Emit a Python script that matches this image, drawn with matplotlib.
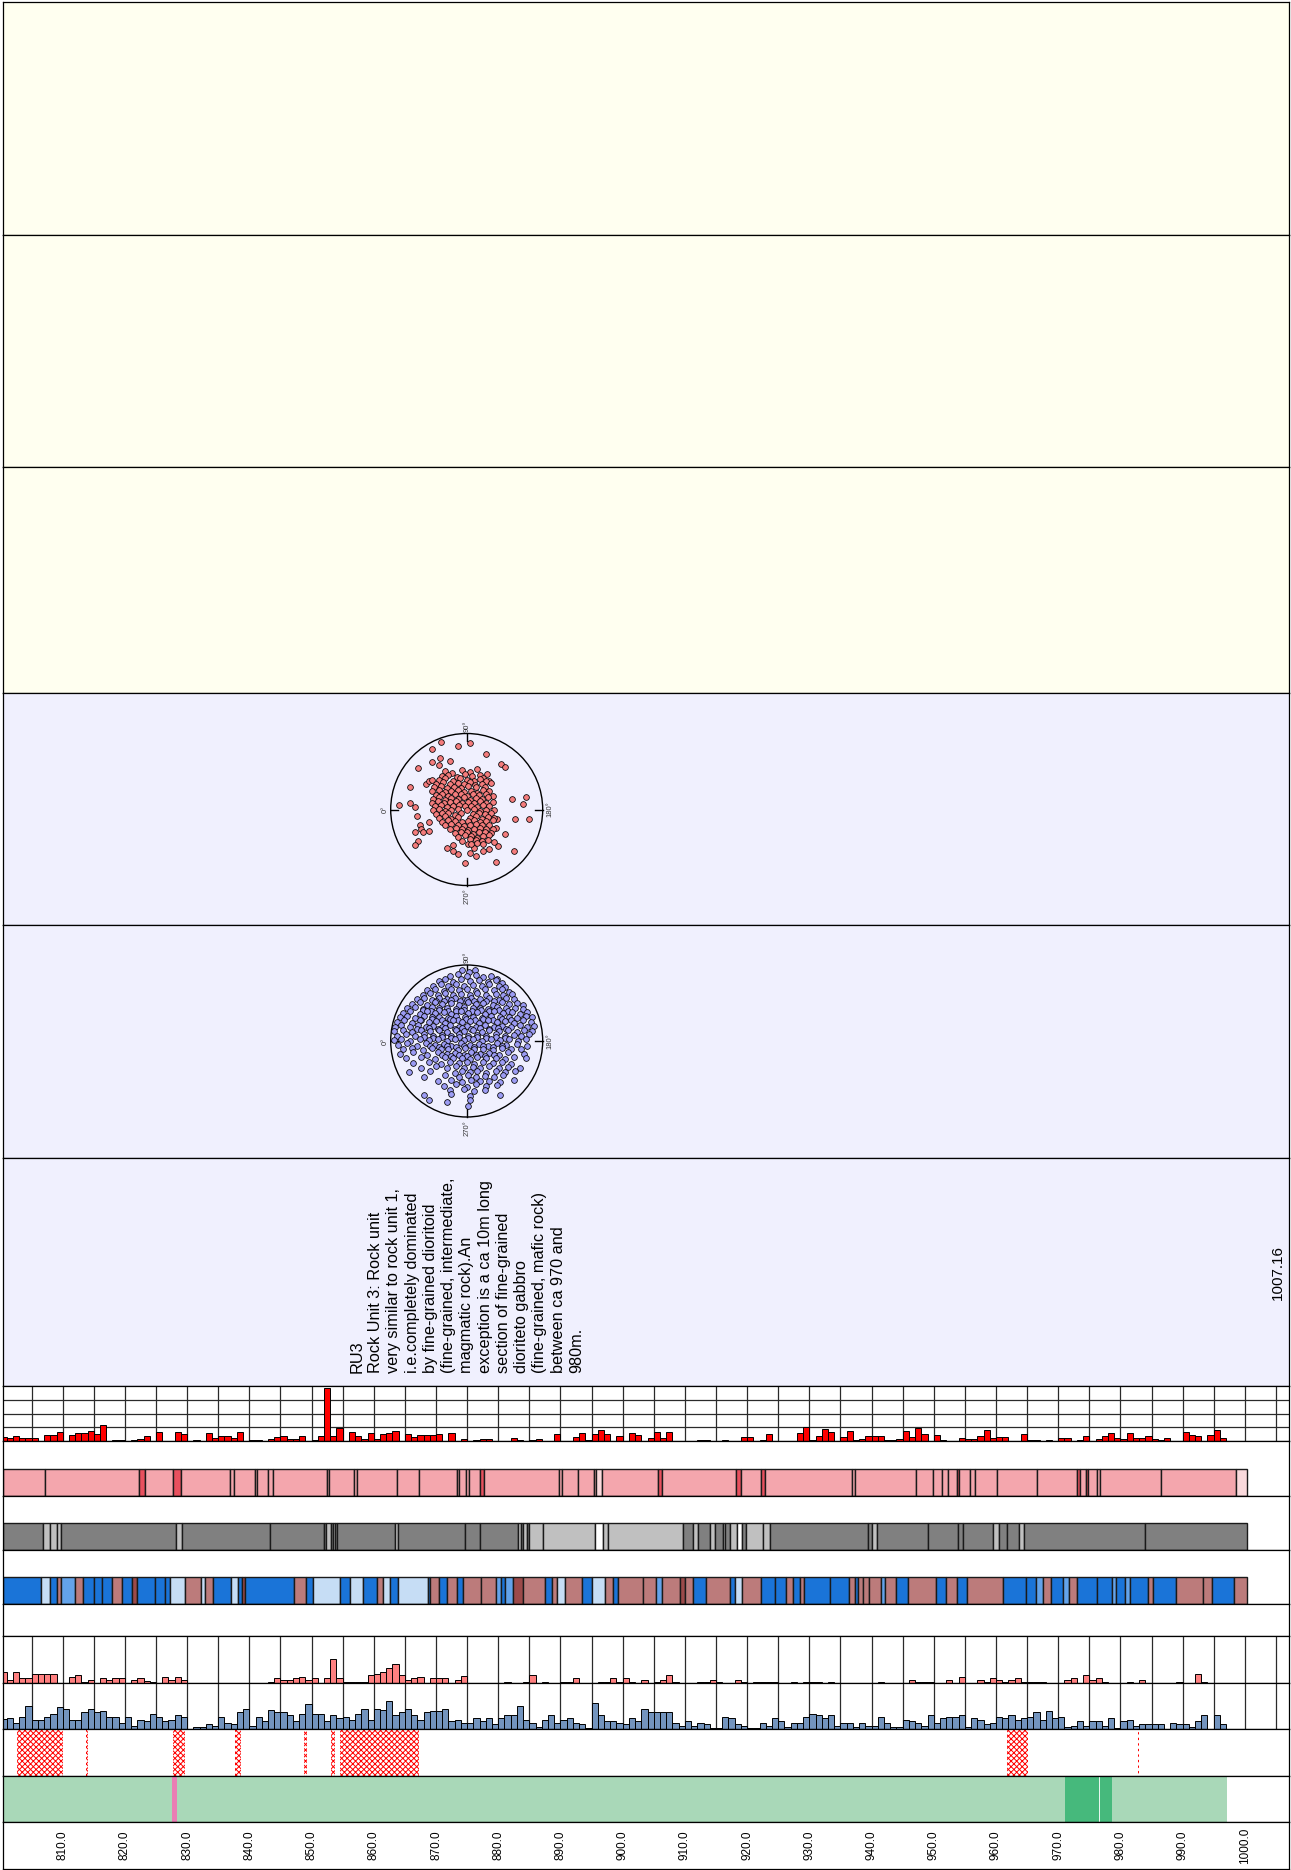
import matplotlib.pyplot as plt
from matplotlib.patches import Rectangle, Circle
from matplotlib.transforms import blended_transform_factory
import numpy as np

plt.rcParams['font.family'] = ['Liberation Sans', 'DejaVu Sans']
plt.rcParams['hatch.linewidth'] = 0.7

# depth axis (m)
depth_min, depth_max = 800.4, 1007.1
end_depth_label = "1007.16"
bins = np.arange(800, 997)            # 1 m bins (left edges)
tick_depths = np.arange(810, 1001, 10)
grid_depths = np.arange(805, 1006, 5)

# histogram values, one per 1 m bin from 800 to 996
red_counts = [3, 2.2, 3.7, 2, 2, 2, 0.3, 4.6, 4.1, 6.3,
              0, 4.6, 5.9, 5.9, 7.6, 5.4, 11.7, 0, 1, 1,
              0, 0.5, 1.7, 3.9, 0, 6.6, 0, 0, 6.8, 4.9,
              0, 1, 0, 5.9, 2, 3.4, 3.9, 2.4, 6.8, 0,
              0.5, 0.7, 0, 1.5, 3.2, 3.9, 1.2, 1.7, 3.9, 0,
              1, 3.4, 38.3, 3.4, 9.5, 0, 6.6, 3.4, 1.7, 6.1,
              1.7, 4.9, 5.6, 7.3, 0, 4.9, 2.9, 4.6, 4.6, 4.1,
              5.4, 0, 6.1, 0, 1.2, 0, 1, 1.5, 1.7, 0,
              0, 0, 2.4, 0.5, 0, 1, 1.7, 0, 0, 5.4,
              0, 0, 2.9, 5.6, 1, 5.4, 8.3, 5.4, 0, 3.7,
              0.3, 5.9, 4.1, 0, 2.4, 6.3, 2.4, 6.3, 0, 0,
              0, 0, 1, 1, 0, 0, 0.7, 0, 0, 2.9,
              2.9, 0, 1, 5.1, 0, 0, 0, 0, 6.1, 10.5,
              1, 3.9, 9, 6.3, 0, 2.9, 7.1, 0.5, 1.2, 3.9,
              3.4, 3.4, 0.5, 1, 1.5, 7.1, 2.9, 9.3, 5.4, 0,
              4.6, 0.5, 0, 0, 2, 1.7, 1.2, 3.4, 7.8, 2.4,
              3.2, 3.2, 0, 0, 5.4, 0.5, 0.5, 0, 1, 0,
              2.4, 2, 0, 1, 3.9, 0, 1.7, 3.9, 6.1, 2.4,
              1.5, 5.6, 2.4, 2.4, 3.4, 1.7, 1, 2.4, 0, 0,
              6.3, 4.1, 3.4, 0, 4.1, 7.8, 2.4]

pink_counts = [34, 10, 33, 15, 15, 27, 27, 27, 27, 0,
               0, 18, 24, 3, 10, 0, 15, 8, 15, 15,
               0, 10, 15, 5, 4, 0, 18, 10, 18, 10,
               0, 0, 0, 0, 0, 0, 0, 0, 0, 0,
               0, 0, 0, 4, 15, 10, 10, 15, 18, 10,
               15, 0, 15, 72, 15, 4, 4, 4, 4, 24,
               28, 34, 46, 57, 24, 10, 15, 18, 0, 15,
               15, 15, 0, 10, 20, 0, 0, 0, 0, 0,
               0, 4, 0, 0, 4, 25, 0, 4, 0, 0,
               4, 4, 15, 0, 0, 0, 4, 4, 15, 4,
               15, 4, 0, 10, 0, 4, 10, 25, 4, 0,
               0, 0, 4, 4, 10, 4, 0, 0, 10, 4,
               0, 4, 4, 4, 4, 0, 0, 4, 0, 4,
               4, 4, 0, 4, 0, 0, 0, 0, 0, 0,
               0, 4, 0, 0, 0, 0, 10, 4, 4, 4,
               0, 0, 10, 0, 18, 0, 0, 10, 4, 15,
               10, 4, 10, 15, 4, 4, 4, 4, 0, 0,
               0, 10, 15, 0, 24, 10, 15, 4, 0, 0,
               0, 4, 0, 10, 0, 0, 0, 0, 0, 4,
               0, 0, 28, 4, 0, 0, 0]

blue_counts = [30, 34, 18, 38, 71, 28, 28, 38, 46, 66,
               62, 28, 28, 51, 61, 51, 56, 38, 38, 18,
               38, 10, 28, 24, 47, 38, 24, 28, 42, 38,
               0, 6, 6, 15, 10, 38, 18, 15, 51, 61,
               10, 38, 24, 57, 51, 51, 42, 24, 47, 75,
               46, 47, 24, 42, 33, 38, 28, 47, 62, 28,
               62, 57, 84, 42, 51, 61, 42, 28, 51, 56,
               56, 61, 24, 28, 18, 18, 33, 24, 33, 15,
               33, 42, 42, 70, 28, 18, 6, 28, 42, 18,
               28, 33, 18, 15, 4, 79, 42, 24, 24, 18,
               15, 33, 24, 61, 51, 51, 51, 51, 18, 10,
               24, 10, 18, 15, 4, 4, 38, 33, 15, 10,
               4, 4, 18, 10, 33, 24, 6, 18, 18, 38,
               47, 42, 33, 42, 10, 18, 18, 6, 18, 10,
               10, 38, 18, 6, 6, 28, 24, 18, 10, 42,
               18, 33, 38, 38, 42, 6, 33, 28, 15, 18,
               38, 33, 42, 28, 33, 38, 51, 28, 56, 33,
               38, 6, 10, 24, 10, 24, 24, 10, 33, 4,
               24, 28, 10, 15, 15, 15, 15, 0, 18, 15,
               15, 6, 24, 42, 0, 42, 15]

# interval tracks: boundaries (m) and one class code per interval
pink_bounds = [800.4, 807.15, 822.3, 823.3, 827.8, 829.0, 836.9, 837.5, 840.9, 841.2,
               843.0, 843.8, 852.4, 852.8, 856.8, 857.3, 863.7, 867.3, 873.3, 873.7,
               874.8, 875.35, 877.1, 877.7, 889.8, 890.2, 892.9, 895.4, 895.7, 896.6,
               905.6, 906.4, 918.2, 919.0, 922.3, 922.8, 936.8, 937.3, 947.2, 949.9,
               951.4, 952.3, 953.7, 954.1, 955.9, 956.7, 960.2, 966.6, 973.1, 973.5,
               974.4, 974.8, 976.2, 976.7, 986.5, 998.6, 1000.4]
pink_kind = "PPRPRPPPPP" "PPPPPPPPPP" "PPRPPPPPLP" "RPRPRPPPPP" "PPRPPPPPRP" "RPPPPL"

gray_bounds = [800.4, 806.8, 808.0, 809.0, 809.7, 828.2, 829.1, 843.3, 852.0, 852.3,
               853.1, 853.5, 853.8, 854.1, 863.4, 863.9, 874.7, 877.1, 883.1, 883.7,
               884.0, 884.7, 885.0, 887.2, 895.5, 896.8, 897.7, 909.7, 911.3, 912.1,
               914.0, 914.8, 916.1, 916.4, 917.2, 918.3, 919.1, 919.9, 922.6, 923.7,
               939.5, 940.0, 940.9, 949.1, 953.9, 954.7, 959.6, 960.5, 961.7, 963.7,
               964.5, 983.9, 1000.4]
gray_kind = "DGGGDGDDDG" "DGDDGDDDGD" "GDGGWGG" "DGDGDGDGWDG" "GDDGDDDDGDDGDD"

blue_bounds = [800.4, 806.5, 808.0, 809.1, 809.8, 812.0, 813.3, 815.0, 816.3, 817.9,
               819.5, 821.1, 821.9, 824.8, 826.4, 827.2, 829.6, 832.3, 832.9, 834.1,
               837.1, 838.1, 838.8, 839.3, 847.1, 849.1, 850.3, 854.6, 856.1, 858.3,
               860.5, 861.4, 862.6, 863.9, 868.7, 869.0, 870.4, 871.8, 873.3, 874.4,
               877.3, 879.7, 880.5, 881.1, 882.4, 884.0, 887.5, 888.6, 889.5, 890.7,
               893.4, 895.0, 897.2, 898.5, 899.3, 903.3, 905.3, 906.4, 909.2, 910.0,
               911.3, 913.4, 917.2, 918.0, 919.1, 922.2, 924.5, 926.3, 927.4, 928.5,
               929.1, 933.3, 936.3, 937.3, 937.9, 938.7, 939.6, 941.6, 942.2, 944.0,
               945.9, 950.4, 952.0, 953.7, 955.4, 961.1, 964.9, 966.5, 967.6, 968.9,
               970.8, 971.8, 973.1, 976.3, 978.6, 979.3, 980.7, 981.5, 984.5, 985.3,
               989.0, 993.3, 994.8, 998.2, 1000.4]
blue_kind = ("BLBNMNBBBN" "BKBBBLNLNB" "LBKBNBLBLB" "NLBLBNBNBN" "NMBMKNBNLN"
             "BLNBNNMNKN" "BNBLNBBNBN" "BBNBNNNMNB" "NBNBNBBMNB" "MNBBMBMBNB" "NNBN")

hatch_spans = [(802.7, 806.3), (806.3, 808.0), (808.0, 810.1), (813.7, 814.1),
               (827.8, 829.7), (837.7, 838.6), (848.7, 849.3), (853.2, 853.8),
               (854.6, 858.8), (858.8, 863.9), (863.9, 867.3), (961.8, 965.2),
               (982.8, 983.05)]

green_bounds = [800.4, 827.5, 828.4, 971.1, 976.5, 976.7, 978.6, 997.1]
green_kind = "LPLDWDL"

pink_pal = {'P': '#F4A6AD', 'R': '#E8505E', 'L': '#FAD9DC'}
gray_pal = {'D': '#808080', 'G': '#C0C0C0', 'W': '#FFFFFF'}
blue_pal = {'B': '#1A74D8', 'L': '#C6DDF5', 'M': '#63A3EA', 'N': '#BC7B7B', 'K': '#9C4A4A'}
green_pal = {'L': '#A9D8B8', 'P': '#EA7DB4', 'D': '#46B97C', 'W': '#E8F6EE'}

# stereonet poles, in % of the net radius (x right, y up)
red_poles = [(-34, 89), (-11, 83), (4, 88), (-46, 79), (25, 73), (45, 60), (50, 56), (-64, 54),
             (-46, 63), (-35, 68), (-22, 64), (-37, 59), (-75, 29), (-54, 33), (-50, 38), (-46, 39),
             (30, 38), (59, 14), (78, 16), (74, 7), (-89, 6), (-75, 8), (-68, 3), (-65, -8),
             (-50, -16), (-62, -21), (-60, -25), (-68, -29), (-57, -29), (-50, -28), (-64, -41),
             (-68, -47), (39, -69), (62, -54), (64, -12), (82, -13), (50, -32), (39, -24), (40, -13),
             (-2, -70), (-11, -59), (-26, -50), (-18, -47), (-18, -55), (2, -46), (4, -57), (12, -61),
             (22, -55), (29, -52), (41, -48), (36, -43), (9, -50),
             (-28, 51), (-19, 48), (-6, 52), (5, 49), (13, 53), (27, 47),
             (-33, 44), (-24, 46), (-13, 43), (-2, 47), (7, 44), (17, 46), (22, 41),
             (-37, 39), (-28, 41), (-18, 38), (-9, 42), (1, 39), (9, 37), (18, 40), (26, 38),
             (-41, 34), (-31, 36), (-22, 33), (-12, 35), (-4, 33), (4, 36), (11, 32), (20, 34), (32, 35),
             (-43, 29), (-34, 31), (-26, 28), (-17, 30), (-8, 28), (2, 31), (12, 29), (24, 30),
             (-45, 24), (-36, 26), (-28, 23), (-20, 25), (-12, 26), (-4, 23), (6, 25), (14, 22), (22, 26), (30, 24),
             (-40, 19), (-32, 21), (-24, 18), (-16, 20), (-8, 21), (0, 18), (8, 20), (16, 19), (26, 21), (34, 18),
             (-44, 14), (-36, 16), (-28, 13), (-20, 15), (-12, 14), (-4, 16), (4, 13), (12, 15), (20, 14), (28, 16),
             (-46, 9), (-38, 11), (-30, 8), (-22, 10), (-14, 11), (-6, 9), (2, 10), (10, 8), (18, 11), (26, 9), (34, 10),
             (-42, 4), (-34, 6), (-26, 3), (-18, 5), (-10, 6), (-2, 4), (6, 5), (14, 3), (22, 6), (30, 4),
             (-44, -1), (-36, 1), (-28, -2), (-20, 0), (-12, 1), (0, -1), (10, 1), (18, -2), (26, 0), (36, -1),
             (-40, -6), (-32, -4), (-24, -5), (-16, -7), (-8, -4), (8, -6), (16, -4), (24, -6), (32, -5),
             (-36, -11), (-28, -9), (-20, -12), (-12, -10), (4, -11), (12, -9), (20, -12), (28, -10), (36, -11),
             (-32, -16), (-24, -14), (-16, -15), (-6, -17), (2, -15), (10, -14), (18, -16), (26, -15), (34, -14),
             (-28, -21), (-20, -19), (-12, -20), (-4, -22), (4, -20), (12, -19), (20, -21), (30, -20),
             (-22, -26), (-14, -24), (-6, -25), (2, -27), (10, -25), (18, -24), (26, -26), (34, -25),
             (-16, -31), (-8, -29), (0, -30), (8, -32), (16, -30), (24, -29), (32, -31),
             (-12, -36), (-2, -34), (6, -35), (14, -37), (22, -35), (30, -34),
             (-6, -41), (4, -39), (12, -40), (20, -42), (28, -40),
             (6, -46), (14, -44), (22, -46)]

blue_poles = [(-6, 93), (3, 91), (11, 94),
              (-22, 85), (-12, 88), (0, 86), (12, 87), (22, 84), (32, 86), (40, 82),
              (-36, 79), (-28, 81), (-18, 78), (-8, 81), (4, 79), (16, 80), (28, 78), (38, 80), (46, 76),
              (-44, 73), (-34, 75), (-24, 72), (-14, 75), (-4, 73), (8, 74), (20, 72), (30, 75), (42, 73), (50, 71),
              (-52, 67), (-42, 69), (-30, 66), (-20, 69), (-10, 67), (0, 68), (12, 66), (24, 69), (36, 67), (46, 68), (56, 65),
              (-58, 61), (-48, 63), (-38, 60), (-28, 63), (-18, 61), (-8, 62), (4, 60), (14, 63), (26, 61), (38, 62),
              (48, 60), (60, 62),
              (-66, 55), (-56, 57), (-46, 54), (-36, 57), (-26, 55), (-16, 56), (-4, 54), (6, 57), (18, 55), (30, 56),
              (42, 54), (52, 57), (62, 55),
              (-40, 53), (-30, 52), (-21, 54), (-9, 52), (1, 54), (10, 52), (25, 53), (36, 52),
              (-72, 49), (-62, 51), (-52, 48), (-42, 51), (-32, 49), (-20, 50), (-10, 48), (2, 51), (12, 49), (22, 50),
              (34, 48), (46, 51), (56, 49), (66, 50), (74, 47),
              (-78, 43), (-68, 45), (-58, 42), (-46, 45), (-36, 43), (-26, 44), (-14, 42), (-4, 45), (8, 43), (18, 44),
              (28, 42), (40, 45), (52, 43), (64, 44), (74, 42),
              (-57, 41), (-47, 40), (-36, 41), (-25, 40), (-14, 39), (-3, 41), (7, 40), (19, 41), (30, 40), (43, 41), (55, 40),
              (-84, 37), (-74, 39), (-62, 36), (-52, 39), (-42, 37), (-30, 38), (-20, 36), (-8, 39), (2, 37), (14, 38),
              (24, 36), (36, 39), (48, 37), (60, 38), (70, 36), (80, 38),
              (-88, 31), (-78, 33), (-68, 30), (-56, 33), (-46, 31), (-36, 32), (-24, 30), (-14, 33), (-2, 31), (8, 32),
              (20, 30), (32, 33), (44, 31), (56, 32), (66, 30), (78, 33), (86, 31),
              (-60, 28), (-45, 29), (-33, 28), (-22, 29), (-11, 28), (-1, 29), (11, 28), (22, 29), (34, 28), (46, 29), (58, 28),
              (-92, 25), (-82, 27), (-72, 24), (-62, 27), (-50, 25), (-40, 26), (-28, 24), (-18, 27), (-6, 25), (4, 26),
              (16, 24), (28, 27), (40, 25), (50, 26), (62, 24), (74, 27), (84, 25),
              (-94, 19), (-86, 21), (-74, 18), (-64, 21), (-54, 19), (-44, 20), (-32, 18), (-22, 21), (-10, 19), (0, 20),
              (12, 18), (24, 21), (36, 19), (46, 20), (58, 18), (70, 21), (80, 19), (88, 20),
              (-66, 16), (-50, 17), (-38, 16), (-28, 17), (-16, 16), (-6, 17), (6, 16), (18, 17), (30, 16), (41, 17), (52, 16),
              (-96, 13), (-84, 15), (-72, 12), (-60, 15), (-48, 13), (-36, 14), (-26, 12), (-14, 15), (-4, 13), (8, 14),
              (20, 12), (30, 15), (42, 13), (54, 14), (66, 12), (76, 15), (86, 13),
              (-92, 7), (-80, 9), (-68, 6), (-56, 9), (-44, 7), (-32, 8), (-20, 6), (-10, 9), (2, 7), (14, 8),
              (26, 6), (38, 9), (50, 7), (62, 8), (72, 6), (82, 9),
              (-56, 5), (-44, 4), (-32, 5), (-21, 4), (-10, 5), (2, 4), (13, 5), (26, 4), (38, 5), (50, 4),
              (-96, 1), (-86, 3), (-74, 0), (-62, 3), (-50, 1), (-38, 2), (-26, 0), (-16, 3), (-4, 1), (8, 2),
              (20, 0), (32, 3), (44, 1), (56, 2), (68, 0), (78, 3),
              (-90, -5), (-78, -3), (-66, -6), (-54, -3), (-42, -5), (-30, -4), (-20, -6), (-8, -3), (4, -5), (16, -4),
              (28, -6), (40, -3), (52, -5), (66, -4), (80, -6),
              (-48, -7), (-37, -8), (-26, -7), (-14, -8), (-3, -7), (10, -8), (22, -7), (34, -8), (46, -7),
              (-84, -11), (-72, -9), (-58, -12), (-46, -9), (-34, -11), (-24, -10), (-12, -12), (-2, -9), (10, -11),
              (22, -10), (34, -12), (46, -9), (58, -11), (72, -10),
              (-88, -17), (-70, -15), (-52, -18), (-38, -15), (-26, -17), (-16, -16), (-4, -18), (6, -15), (18, -17),
              (30, -16), (42, -18), (54, -15), (76, -17),
              (-32, -19), (-21, -20), (-10, -19), (1, -20), (12, -19), (24, -20), (36, -19),
              (-80, -23), (-60, -21), (-42, -24), (-28, -21), (-18, -23), (-6, -22), (4, -24), (14, -21), (26, -23),
              (38, -22), (50, -24), (62, -21), (78, -23),
              (-70, -29), (-50, -27), (-34, -30), (-22, -27), (-10, -29), (0, -28), (10, -30), (22, -27), (34, -29),
              (46, -28), (58, -30),
              (-60, -35), (-40, -33), (-26, -36), (-14, -33), (-4, -35), (8, -34), (18, -36), (30, -33), (42, -35),
              (54, -34), (70, -36),
              (-76, -41), (-48, -39), (-16, -42), (-6, -39), (4, -41), (14, -40), (26, -42), (38, -39), (50, -41), (64, -40),
              (-56, -47), (-28, -45), (-10, -48), (2, -45), (12, -47), (24, -46), (36, -48), (48, -45),
              (-38, -53), (-20, -51), (-6, -54), (6, -51), (18, -53), (30, -52), (44, -54), (62, -51),
              (-30, -59), (-14, -57), (0, -60), (12, -57), (26, -59), (40, -58),
              (-22, -65), (-4, -63), (10, -66), (24, -64),
              (-56, -71), (-20, -70), (4, -72), (44, -71),
              (-50, -77), (-26, -80), (4, -77), (2, -85)]

unit_text = ("RU3\nRock Unit 3: Rock unit\nvery similar to rock unit 1,\n"
             "i.e.completely dominated\nby fine-grained dioritoid\n"
             "(fine-grained, intermediate,\nmagmatic rock).An\n"
             "exception is a ca 10m long\nsection of fine-grained\n"
             "dioriteto gabbro\n(fine-grained, mafic rock)\nbetween ca 970 and\n980m.")

W, H = 1291, 1870
fig = plt.figure(figsize=(W / 100, H / 100), dpi=100)
X0, X1 = 3, 1289


def strip(y0, y1, bg='white', top=1.0):
    # one horizontal band of the log, positioned in pixels
    ax = fig.add_axes([X0 / W, 1 - y1 / H, (X1 - X0) / W, (y1 - y0) / H])
    ax.set_xlim(depth_min, depth_max)
    ax.set_ylim(0, top)
    ax.set_xticks([])
    ax.set_yticks([])
    ax.set_facecolor(bg)
    for s in ax.spines.values():
        s.set_linewidth(0.9)
        s.set_color('black')
    return ax


def hist(y0, y1, vals, top, color, hgrid=()):
    ax = strip(y0, y1, top=top)
    for g in grid_depths:
        ax.axvline(g, color='#2a2a2a', lw=0.9, zorder=1)
    for g in hgrid:
        ax.axhline(g, color='#2a2a2a', lw=0.9, zorder=1)
    ax.bar(bins, vals, width=1, align='edge', color=color, edgecolor='black', lw=0.7, zorder=2)
    return ax


def track(y0, y1, bounds, kinds, pal, h=0.5, ec='#1a1a1a'):
    ax = strip(y0, y1)
    for a, b, k in zip(bounds[:-1], bounds[1:], kinds):
        ax.add_patch(Rectangle((a, 0), b - a, h, facecolor=pal[k], edgecolor=ec, lw=1.0))
    return ax


def stereo(cy, poles, fc, cx=466.7, half=95):
    ax = fig.add_axes([(cx - half) / W, 1 - (cy + half) / H, 2 * half / W, 2 * half / H])
    ax.set_xlim(-1.25, 1.25)
    ax.set_ylim(-1.25, 1.25)
    ax.axis('off')
    ax.add_patch(Circle((0, 0), 1, fill=False, lw=1.0, ec='black'))
    ax.plot([0, 0], [1, 0.9], color='black', lw=1)
    ax.plot([0, 0], [-1, -0.9], color='black', lw=1)
    ax.plot([-1, -0.9], [0, 0], color='black', lw=1)
    ax.plot([1, 0.9], [0, 0], color='black', lw=1)
    lab = dict(rotation=90, ha='center', va='center', fontsize=5.5, color='#333333')
    ax.text(0, 1.10, '90°', **lab)
    ax.text(-1.07, 0, '0°', **lab)
    ax.text(1.09, 0, '180°', **lab)
    ax.text(0, -1.14, '270°', **lab)
    px = [p[0] / 100 for p in poles]
    py = [p[1] / 100 for p in poles]
    ax.scatter(px, py, s=17, c=fc, edgecolors='black', linewidths=0.55, zorder=3)
    return ax


# empty description panels
strip(2, 235, '#FFFFF0')
strip(235, 467, '#FFFFF0')
strip(467, 693, '#FFFFF0')
strip(693, 925, '#F0F0FE')
strip(925, 1158, '#F0F0FE')
strip(1158, 1386, '#F0F0FE')

stereo(809.5, red_poles, '#F47C7C')
stereo(1041, blue_poles, '#9C9CF4')

fig.text(350 / W, 1 - 1373 / H, unit_text, rotation=90, ha='left', va='bottom',
         fontsize=11.7, linespacing=1.27, multialignment='left')
fig.text(1278 / W, 1 - 1272 / H, end_depth_label, rotation=90, ha='center', va='center', fontsize=11)

# log tracks
hist(1386, 1441, red_counts, 40, '#FF0000', hgrid=(10, 20, 30))
track(1441, 1496, pink_bounds, pink_kind, pink_pal)
track(1496, 1550, gray_bounds, gray_kind, gray_pal)
track(1550, 1604, blue_bounds, blue_kind, blue_pal)
strip(1604, 1636)
hist(1636, 1683, pink_counts, 140, '#FF8080')
hist(1683, 1729, blue_counts, 140, '#7394BE')

ax_h = strip(1729, 1776)
for a, b in hatch_spans:
    ax_h.add_patch(Rectangle((a, 0), b - a, 1, facecolor='none', edgecolor='red', hatch='xxxxxx', lw=0))

ax_g = strip(1776, 1822)
for a, b, k in zip(green_bounds[:-1], green_bounds[1:], green_kind):
    ax_g.add_patch(Rectangle((a, 0), b - a, 1, facecolor=green_pal[k], edgecolor='none'))

ax_t = strip(1822, 1869)
tr = blended_transform_factory(ax_t.transData, ax_t.transAxes)
for d in tick_depths:
    ax_t.text(d, 0.5, f"{d:.1f}", transform=tr, rotation=90, ha='center', va='center', fontsize=8.5)

fig.savefig('out.png', dpi=100)
